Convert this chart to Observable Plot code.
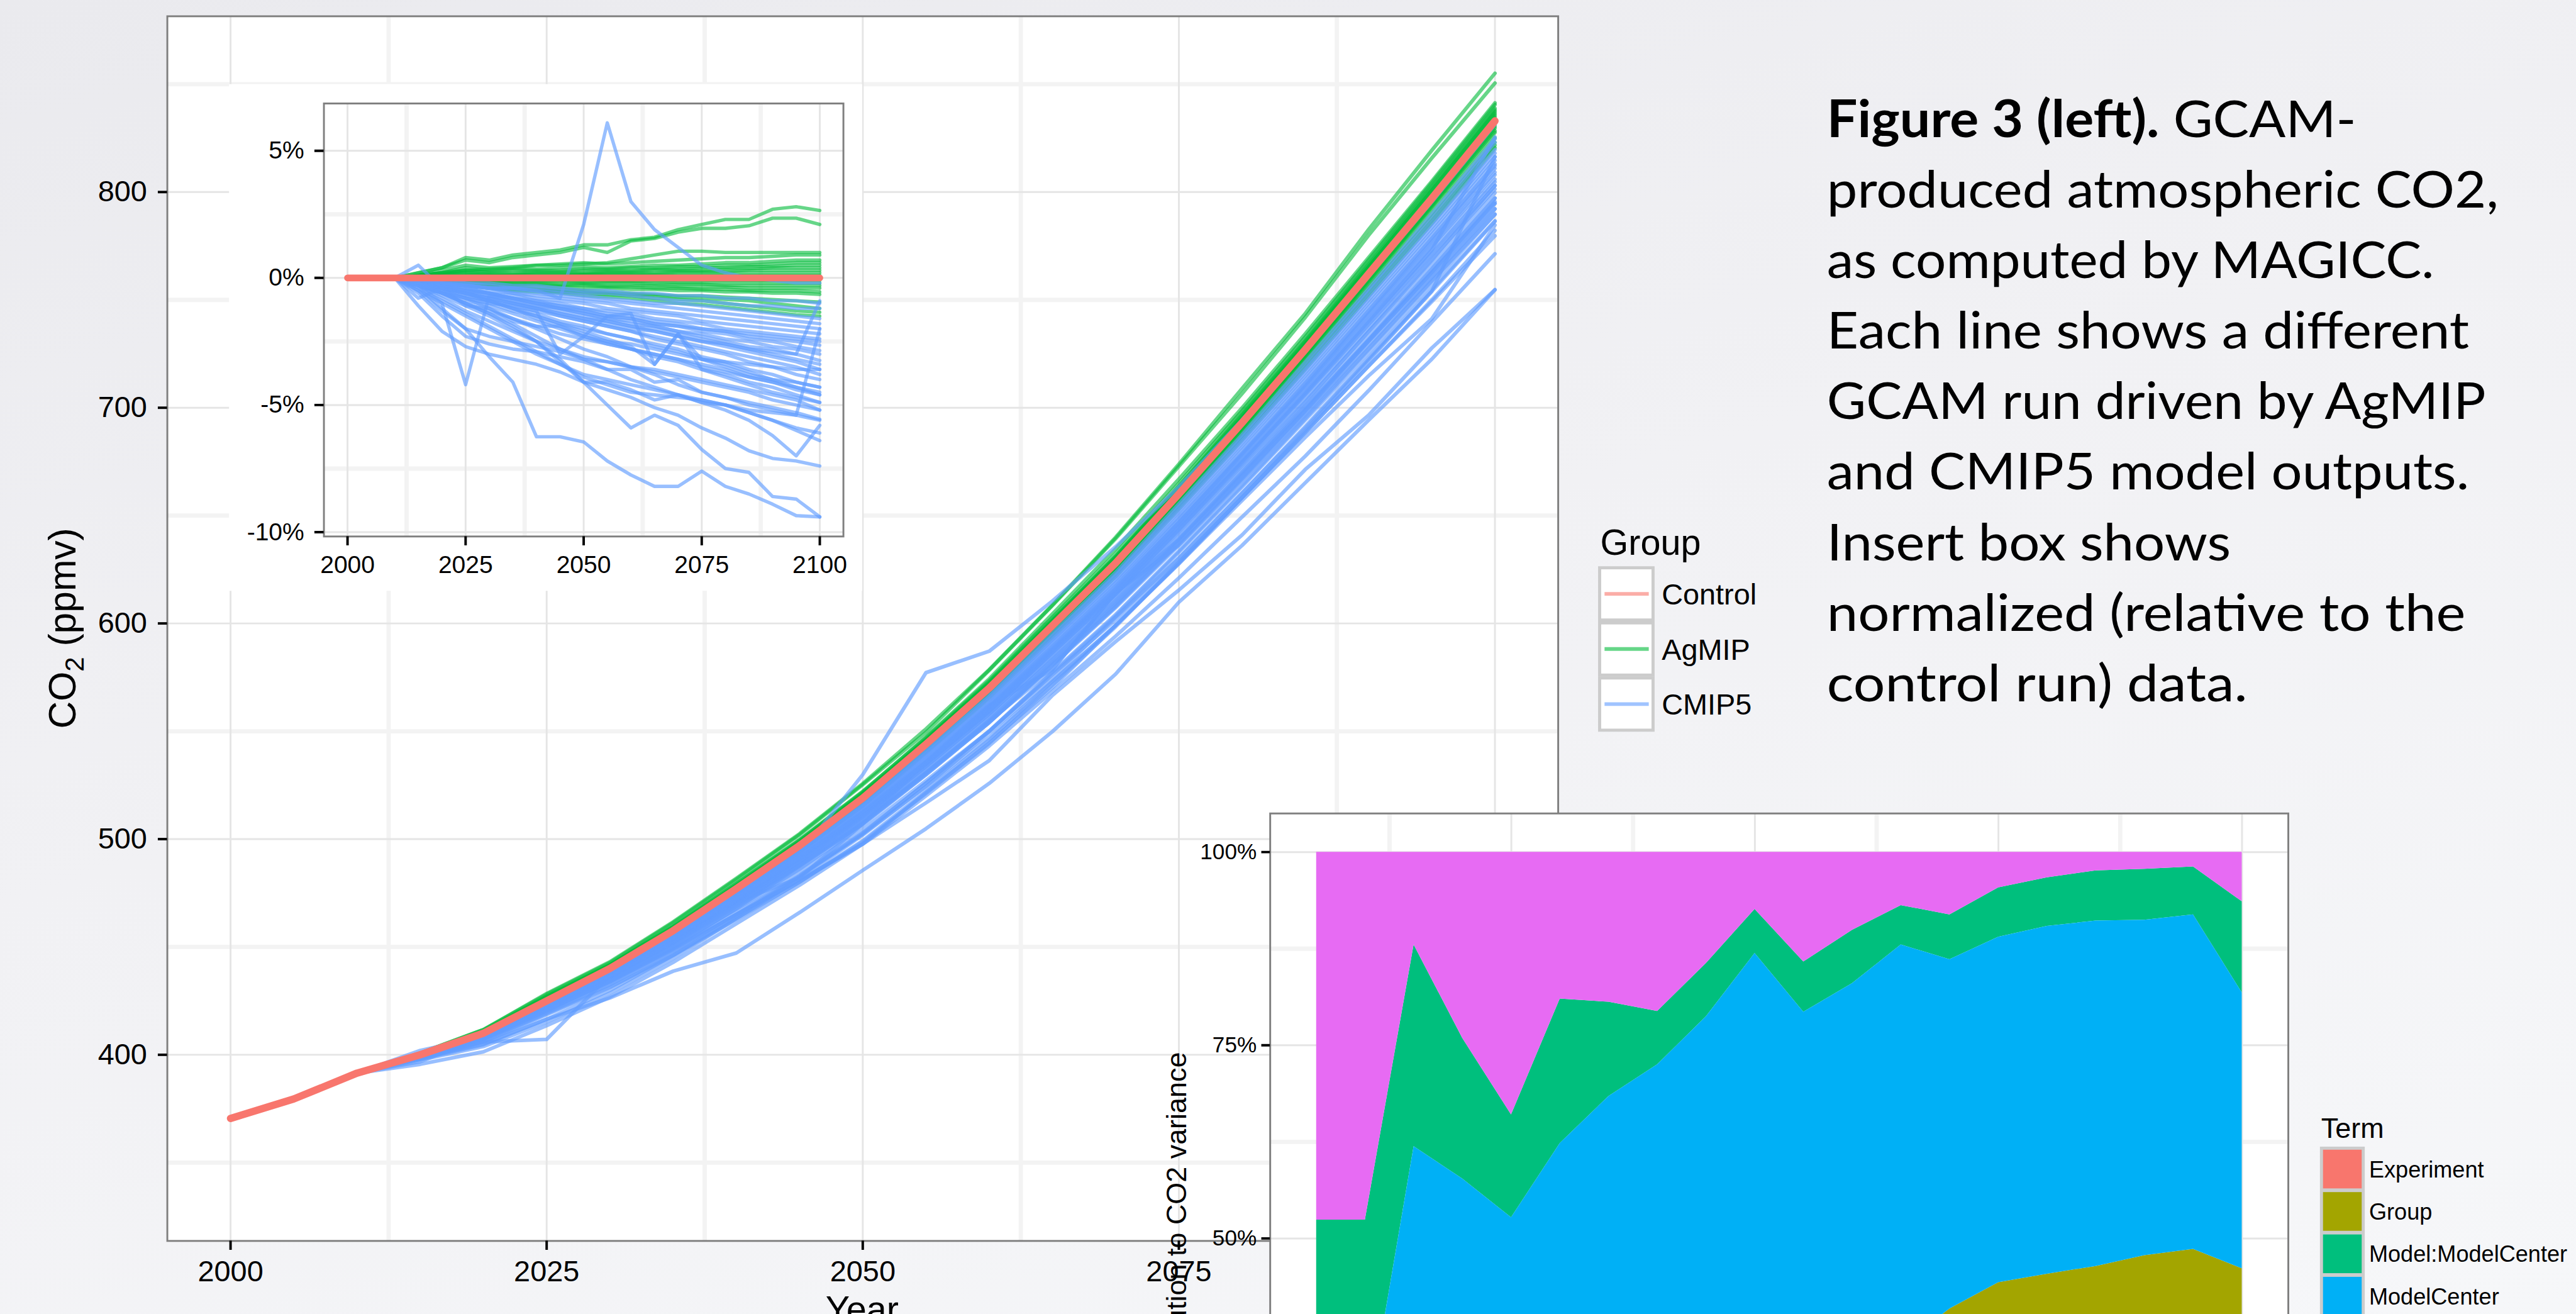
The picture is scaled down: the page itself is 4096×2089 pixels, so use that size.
<!DOCTYPE html>
<html><head><meta charset="utf-8">
<script src="https://cdn.jsdelivr.net/npm/d3@7"></script>
<script src="https://cdn.jsdelivr.net/npm/@observablehq/plot@0.6"></script>
<style>
html,body{margin:0;padding:0;width:4096px;height:2089px;overflow:hidden;background:#F2F2F5;}
#stage{position:absolute;left:0;top:0;width:4195px;height:2140px;transform:scale(0.97640);transform-origin:0 0;overflow:hidden;
background:linear-gradient(165deg,#EAEAEE 0%,#F1F1F4 45%,#F6F7F9 100%);}
</style></head><body><div id="stage"></div>
<script>
// ---------------- DATA ----------------
const years = [2000,2005,2010,2015,2020,2025,2030,2035,2040,2045,2050,2055,2060,2065,2070,2075,2080,2085,2090,2095,2100];
const control = [370.5,379.5,391.5,400,410,425,440,457.5,477,497,519,544,570,599,628,660,693,727,762,797,833];
const runYears = [2010,2015,2020,2025,2030,2035,2040,2045,2050,2055,2060,2065,2070,2075,2080,2085,2090,2095,2100];
const groups = ["Control","AgMIP","CMIP5"];
const groupColors = ["#F8766D","#00BA38","#619CFF"];

// AgMIP runs: deviation from control (%), 2010..2100
const agmipDev = [
 [0,0.2,0.4,0.8,0.7,0.9,1.0,1.1,1.3,1.3,1.5,1.6,1.9,2.1,2.3,2.3,2.7,2.8,2.65],
 [0,0.2,0.4,0.7,0.6,0.8,0.9,1.0,1.2,1.0,1.45,1.55,1.8,1.95,1.95,2.05,2.35,2.35,2.1],
 [0,0.1,0.2,0.3,0.35,0.4,0.5,0.5,0.55,0.6,0.75,0.9,1.05,1.05,1.0,1.0,1.0,1.0,1.0],
 [0,0.1,0.3,0.5,0.4,0.45,0.5,0.55,0.6,0.55,0.6,0.65,0.7,0.75,0.8,0.8,0.85,0.9,0.9],
 [0,0.1,0.2,0.4,0.3,0.35,0.35,0.4,0.45,0.4,0.45,0.5,0.5,0.55,0.6,0.6,0.65,0.7,0.7],
 [0,0.1,0.2,0.3,0.25,0.3,0.3,0.3,0.35,0.35,0.4,0.4,0.45,0.45,0.5,0.5,0.55,0.6,0.6],
 [0,0.05,0.15,0.25,0.2,0.2,0.25,0.25,0.3,0.3,0.3,0.35,0.35,0.4,0.4,0.45,0.45,0.5,0.5],
 [0,0.05,0.1,0.2,0.15,0.15,0.2,0.2,0.2,0.25,0.25,0.3,0.3,0.3,0.35,0.35,0.4,0.4,0.4],
 [0,0.05,0.1,0.15,0.1,0.1,0.15,0.15,0.15,0.2,0.2,0.2,0.25,0.25,0.25,0.3,0.3,0.3,0.3],
 [0,0,0.05,0.1,0.1,0.1,0.1,0.1,0.15,0.15,0.15,0.15,0.2,0.2,0.2,0.2,0.2,0.2,0.2],
 [0,0,0.05,0.05,0.05,0.05,0.05,0.05,0.1,0.1,0.1,0.1,0.1,0.1,0.1,0.1,0.1,0.1,0.1],
 [0,0,0,-0.05,-0.05,-0.05,-0.05,-0.05,-0.05,-0.1,-0.1,-0.1,-0.1,-0.1,-0.1,-0.1,-0.1,-0.1,-0.1],
 [0,0,-0.05,-0.05,-0.1,-0.1,-0.1,-0.1,-0.15,-0.15,-0.15,-0.15,-0.2,-0.2,-0.2,-0.2,-0.2,-0.2,-0.2],
 [0,-0.05,-0.05,-0.1,-0.1,-0.15,-0.15,-0.15,-0.2,-0.2,-0.2,-0.25,-0.25,-0.25,-0.3,-0.3,-0.3,-0.3,-0.3],
 [0,-0.05,-0.1,-0.15,-0.15,-0.2,-0.2,-0.25,-0.25,-0.3,-0.3,-0.3,-0.35,-0.35,-0.35,-0.4,-0.4,-0.4,-0.4],
 [0,-0.05,-0.1,-0.15,-0.2,-0.25,-0.25,-0.3,-0.3,-0.35,-0.35,-0.4,-0.4,-0.45,-0.45,-0.5,-0.5,-0.5,-0.55],
 [0,-0.1,-0.15,-0.2,-0.25,-0.3,-0.3,-0.35,-0.4,-0.4,-0.45,-0.45,-0.5,-0.5,-0.55,-0.55,-0.6,-0.6,-0.65],
 [0,-0.1,-0.2,-0.25,-0.3,-0.35,-0.4,-0.45,-0.5,-0.55,-0.6,-0.65,-0.7,-0.7,-0.75,-0.8,-0.85,-0.9,-0.95],
 [0,-0.1,-0.2,-0.3,-0.35,-0.4,-0.45,-0.5,-0.55,-0.6,-0.65,-0.7,-0.75,-0.8,-0.85,-0.9,-1.0,-1.1,-1.2],
 [0,-0.1,-0.2,-0.3,-0.4,-0.45,-0.5,-0.55,-0.6,-0.65,-0.7,-0.8,-0.85,-0.9,-1.0,-1.1,-1.2,-1.3,-1.35],
 [0,-0.1,-0.2,-0.3,-0.4,-0.5,-0.55,-0.6,-0.7,-0.75,-0.8,-0.9,-1.0,-1.05,-1.15,-1.25,-1.35,-1.45,-1.5]
];
// CMIP5 runs: deviation from control (%), 2010..2100
const cmip5Dev = [
 [0,-0.2,-0.3,-0.3,-0.4,-0.4,-0.5,-0.8,2.1,6.1,3.0,1.9,1.2,0.5,0.2,0.0,-0.1,-0.2,-0.2],
 [0,-0.3,-1.0,-4.2,-0.7,-0.8,-1.0,-1.2,-1.3,-1.5,-1.6,-1.8,-1.9,-2.0,-2.1,-2.2,-2.3,-2.4,-2.5],
 [0,-0.4,-1.2,-2.0,-3.1,-4.1,-6.25,-6.25,-6.45,-7.2,-7.75,-8.2,-8.2,-7.6,-8.2,-8.5,-8.9,-9.35,-9.4],
 [0,-1.1,-2.1,-2.7,-3.0,-3.2,-3.4,-3.7,-4.1,-4.4,-4.7,-5.1,-5.4,-5.9,-6.3,-6.8,-7.1,-7.2,-7.4],
 [0,-0.3,-0.6,-1.0,-1.4,-1.8,-2.3,-2.8,-3.2,-3.6,-4.0,-4.3,-4.6,-4.9,-5.2,-5.6,-6.2,-7.0,-5.8],
 [0,-0.2,-0.5,-0.8,-1.2,-1.6,-2.0,-2.4,-2.8,-3.1,-3.5,-3.8,-4.2,-4.5,-4.7,-5.0,-5.2,-5.4,-2.0],
 [0,-0.2,-0.4,-0.6,-0.8,-1.0,-1.2,-1.4,-1.6,-1.8,-2.0,-2.1,-2.3,-2.5,-2.6,-2.8,-2.9,-3.0,-0.9],
 [0,-0.3,-0.6,-0.8,-1.0,-1.1,-1.3,-3.0,-2.3,-1.5,-1.4,-3.4,-2.2,-3.6,-3.9,-4.2,-4.5,-4.7,-4.9],
 [0,-0.2,-0.4,-0.6,-0.9,-1.2,-1.5,-1.8,-2.1,-2.4,-2.7,-3.4,-2.2,-3.2,-3.5,-3.8,-4.0,-4.1,-4.3],
 [0,-0.5,-1.0,-1.5,-2.0,-2.5,-3.0,-3.4,-3.8,-4.0,-4.2,-4.4,-4.6,-4.8,-5.0,-5.3,-5.6,-5.9,-6.1],
 [0,-0.4,-0.9,-1.4,-1.9,-2.4,-2.9,-3.4,-3.9,-4.2,-4.5,-4.6,-4.7,-4.8,-5.0,-5.3,-5.6,-6.0,-6.4],
 [0,-0.3,-0.7,-1.1,-1.5,-2.0,-2.5,-3.2,-4.1,-4.1,-4.4,-4.8,-4.6,-4.9,-5.0,-5.2,-5.3,-5.4,-5.6],
 [0,-0.3,-0.6,-1.0,-1.4,-1.9,-2.5,-3.3,-4.1,-5.0,-5.9,-5.4,-5.8,-6.75,-7.5,-7.65,-8.6,-8.7,-9.4],
 [0,-0.6,-1.5,-2.3,-2.6,-2.8,-2.9,-3.1,-3.3,-3.6,-3.6,-4.1,-4.0,-4.5,-4.7,-4.9,-5.1,-5.3,-5.56],
 [0,-0.5,-1.3,-2.0,-2.3,-2.5,-2.7,-2.9,-3.2,-3.3,-3.5,-3.6,-3.8,-4.0,-4.2,-4.4,-4.6,-4.8,-5.2],
 [0,-0.3,-0.6,-0.9,-1.1,-1.4,-1.7,-2.0,-2.3,-2.6,-2.8,-3.1,-3.3,-3.6,-3.8,-4.1,-4.3,-4.6,-4.9],
 [0,-0.2,-0.4,-0.7,-0.9,-1.2,-1.4,-1.7,-1.9,-2.2,-2.4,-2.7,-2.9,-3.2,-3.4,-3.7,-4.0,-4.3,-4.6],
 [0,-0.3,-0.5,-0.8,-1.0,-1.3,-1.5,-1.8,-2.0,-2.2,-2.4,-2.6,-2.8,-3.1,-3.3,-3.6,-3.8,-4.1,-4.3],
 [0,-0.2,-0.4,-0.6,-0.8,-1.0,-1.2,-1.5,-1.7,-1.9,-2.1,-2.4,-2.6,-2.8,-3.0,-3.3,-3.5,-3.8,-4.0],
 [0,-0.2,-0.5,-0.7,-0.9,-1.1,-1.3,-1.5,-1.7,-1.9,-2.1,-2.3,-2.5,-2.7,-2.9,-3.1,-3.3,-3.5,-3.8],
 [0,-0.1,-0.3,-0.5,-0.7,-0.9,-1.1,-1.3,-1.5,-1.7,-1.9,-2.1,-2.3,-2.5,-2.7,-2.9,-3.1,-3.3,-3.6],
 [0,-0.2,-0.4,-0.6,-0.8,-1.0,-1.2,-1.4,-1.6,-1.7,-1.9,-2.0,-2.2,-2.4,-2.6,-2.8,-3.0,-3.2,-3.4],
 [0,-0.1,-0.3,-0.5,-0.6,-0.8,-1.0,-1.2,-1.4,-1.6,-1.8,-1.9,-2.1,-2.3,-2.5,-2.7,-2.8,-3.0,-3.25],
 [0,-0.2,-0.4,-0.5,-0.7,-0.9,-1.1,-1.2,-1.4,-1.6,-1.7,-1.9,-2.1,-2.2,-2.4,-2.5,-2.7,-2.8,-3.0],
 [0,-0.1,-0.2,-0.4,-0.6,-0.8,-1.0,-1.1,-1.3,-1.5,-1.6,-1.8,-1.9,-2.1,-2.2,-2.4,-2.5,-2.7,-2.86],
 [0,-0.2,-0.3,-0.5,-0.6,-0.8,-0.9,-1.1,-1.2,-1.4,-1.5,-1.7,-1.8,-2.0,-2.1,-2.3,-2.4,-2.5,-2.65],
 [0,-0.1,-0.3,-0.4,-0.6,-0.7,-0.9,-1.0,-1.2,-1.3,-1.4,-1.6,-1.7,-1.8,-2.0,-2.1,-2.2,-2.3,-2.4],
 [0,-0.1,-0.2,-0.4,-0.5,-0.6,-0.8,-0.9,-1.0,-1.2,-1.3,-1.4,-1.5,-1.7,-1.8,-1.9,-2.0,-2.1,-2.2],
 [0,-0.1,-0.2,-0.3,-0.4,-0.6,-0.7,-0.8,-0.9,-1.0,-1.2,-1.3,-1.4,-1.5,-1.6,-1.7,-1.8,-1.9,-2.0],
 [0,-0.1,-0.2,-0.3,-0.4,-0.5,-0.6,-0.7,-0.8,-0.9,-1.0,-1.1,-1.2,-1.3,-1.4,-1.5,-1.6,-1.7,-1.8],
 [0,-0.1,-0.2,-0.3,-0.4,-0.4,-0.5,-0.6,-0.7,-0.8,-0.9,-1.0,-1.0,-1.1,-1.2,-1.3,-1.4,-1.5,-1.6],
 [0,-0.1,-0.1,-0.2,-0.3,-0.4,-0.4,-0.5,-0.6,-0.6,-0.7,-0.8,-0.9,-0.9,-1.0,-1.1,-1.1,-1.2,-1.2],
 [0,-0.1,-0.1,-0.2,-0.2,-0.3,-0.3,-0.4,-0.5,-0.5,-0.6,-0.6,-0.7,-0.7,-0.8,-0.8,-0.9,-0.9,-1.0],
 [0,0.5,-0.4,-0.6,-0.9,-1.2,-1.6,-1.9,-2.2,-2.5,-2.8,-3.0,-3.2,-3.5,-3.7,-3.9,-4.1,-4.3,-4.5],
 [0,-0.8,-0.4,-1.1,-1.2,-1.7,-1.9,-1.9,-2.3,-2.5,-2.6,-2.8,-3.0,-3.2,-3.3,-3.4,-3.5,-3.6,-3.6],
 [0,-0.3,-0.8,-1.3,-1.7,-2.1,-2.5,-2.8,-3.1,-3.3,-3.5,-3.7,-3.9,-4.1,-4.3,-4.5,-4.8,-5.0,-5.2],
 [0,-0.2,-0.6,-1.0,-1.3,-1.6,-1.9,-2.2,-2.4,-2.6,-2.8,-3.0,-3.2,-3.4,-3.6,-3.9,-4.1,-4.4,-4.6]
];

const mainXTicks = [2000,2025,2050,2075,2100];
const minorXTicks = [2012.5,2037.5,2062.5,2087.5];
const mainYTicks = [400,500,600,700,800];
const mainYMinor = [350,450,550,650,750,850];
const insetYTicks = [5,0,-5,-10];
const insetYMinor = [2.5,-2.5,-7.5];

// Variance decomposition (share %, 2005..2100), stacked bottom -> top
const areaYears = [2005,2010,2015,2020,2025,2030,2035,2040,2045,2050,2055,2060,2065,2070,2075,2080,2085,2090,2095,2100];
const terms = ["Experiment","Group","Model:ModelCenter","ModelCenter","Residuals"];
const termColors = ["#F8766D","#A3A500","#00BF7D","#00B0F6","#E76BF3"];
const stackOrder = ["Experiment","Group","ModelCenter","Model:ModelCenter","Residuals"];
const shareExperiment = [1,1,1,1,1,1,1,1,1,1,1,1,1,1,1,1,1,1,1,1];
const shareGroup = [9,9,11,14,17,19,21,23,25,27,29,32,35,39.9,43.3,44.4,45.4,46.8,47.6,45.1];
const shareModelCenter = [15,15,49.9,42.7,34.7,42.3,46.4,48.5,52.7,58.9,49.3,50,52,45.2,44.7,45,44.7,43.4,43.3,35.7];
const shareModelModelCenter = [27.4,27.4,26.1,18.2,13.3,18.7,12.2,6.9,6.9,5.7,6.5,6.9,5.1,5.8,6.4,6.3,6.5,6.6,6.2,11.8];
const shareResiduals = [47.6,47.6,12,24.1,34,19,19.4,20.6,14.4,7.4,14.2,10.1,6.9,8.1,4.6,3.3,2.4,2.2,1.9,6.4];
const areaYTicks = [0,25,50,75,100];
const areaYMinor = [12.5,37.5,62.5,87.5];
const areaXTicks = [2025,2050,2075,2100];

const captionLines = [
 ["Figure 3 (left).", " GCAM-"],
 ["", "produced atmospheric CO2,"],
 ["", "as computed by MAGICC."],
 ["", "Each line shows a different"],
 ["", "GCAM run driven by AgMIP"],
 ["", "and CMIP5 model outputs."],
 ["", "Insert box shows"],
 ["", "normalized (relative to the"],
 ["", "control run) data."]
];
const captionWidths = [862,1094,989,1046,1073,1046,658,1040,685];

// ---------------- BUILD ----------------
const stage = document.getElementById("stage");
function place(node, left, top){ node.style.position="absolute"; node.style.left=left+"px"; node.style.top=top+"px"; stage.appendChild(node); }
const FONT = "'Liberation Sans', Arial, Helvetica, sans-serif";
const colorOf = g => groupColors[groups.indexOf(g)];

const mainRows = [], insetRows = [];
const runs = [];
agmipDev.forEach((d,i)=>runs.push({run:"A"+i, group:"AgMIP", dev:d}));
cmip5Dev.forEach((d,i)=>runs.push({run:"C"+i, group:"CMIP5", dev:d}));
for (const r of runs) runYears.forEach((y,j)=>{
  const c = control[years.indexOf(y)];
  mainRows.push({run:r.run, group:r.group, year:y, co2:c*(1+r.dev[j]/100)});
  insetRows.push({run:r.run, group:r.group, year:y, pct:r.dev[j]});
});
const controlRows = years.map((y,i)=>({year:y, co2:control[i], pct:0}));

const grid = (minX, majX, minY, majY) => [
  Plot.ruleY(minY, {stroke:"#F3F3F3", strokeWidth:7}),
  Plot.ruleX(minX, {stroke:"#F3F3F3", strokeWidth:7}),
  Plot.ruleY(majY, {stroke:"#E5E5E5", strokeWidth:3}),
  Plot.ruleX(majX, {stroke:"#E5E5E5", strokeWidth:3})
];

// Main chart
const mainPlot = Plot.plot({
  width:2600, height:2140,
  marginLeft:272, marginRight:63, marginTop:26, marginBottom:120,
  x:{domain:[1995,2105]}, y:{domain:[313.7,881.5]},
  style:{background:"transparent", color:"black", fontFamily:FONT, maxWidth:"none"},
  marks:[
    Plot.frame({fill:"white"}),
    ...grid(minorXTicks, mainXTicks, mainYMinor, mainYTicks),
    Plot.line(mainRows.filter(d=>d.group==="AgMIP"), {x:"year", y:"co2", z:"run", stroke:colorOf("AgMIP"), strokeOpacity:0.6, strokeWidth:6}),
    Plot.line(mainRows.filter(d=>d.group==="CMIP5"), {x:"year", y:"co2", z:"run", stroke:colorOf("CMIP5"), strokeOpacity:0.65, strokeWidth:6}),
    Plot.line(controlRows, {x:"year", y:"co2", stroke:colorOf("Control"), strokeWidth:12}),
    Plot.frame({stroke:"#7F7F7F", strokeWidth:3}),
    Plot.axisX({ticks:mainXTicks, tickFormat:d=>String(d), tickSize:15, tickPadding:17, fontSize:48, strokeWidth:4, stroke:"black", label:null}),
    Plot.axisY({ticks:mainYTicks, tickFormat:d=>String(d), tickSize:15, tickPadding:18, fontSize:48, strokeWidth:4, stroke:"black", label:null})
  ]
});
place(mainPlot, 0, 0);

// Inset chart
const insetPlot = Plot.plot({
  width:1031, height:825,
  marginLeft:154, marginRight:31, marginTop:31, marginBottom:89,
  x:{domain:[1995,2105]}, y:{domain:[-10.17,6.86]},
  style:{background:"white", color:"black", fontFamily:FONT, maxWidth:"none"},
  marks:[
    Plot.frame({fill:"white"}),
    ...grid(minorXTicks, mainXTicks, insetYMinor, insetYTicks),
    Plot.line(insetRows.filter(d=>d.group==="AgMIP"), {x:"year", y:"pct", z:"run", stroke:colorOf("AgMIP"), strokeOpacity:0.6, strokeWidth:5.5}),
    Plot.line(insetRows.filter(d=>d.group==="CMIP5"), {x:"year", y:"pct", z:"run", stroke:colorOf("CMIP5"), strokeOpacity:0.65, strokeWidth:5.5}),
    Plot.line(controlRows, {x:"year", y:"pct", stroke:colorOf("Control"), strokeWidth:11}),
    Plot.frame({stroke:"#7F7F7F", strokeWidth:3}),
    Plot.axisX({ticks:mainXTicks, tickFormat:d=>String(d), tickSize:15, tickPadding:16, fontSize:40, strokeWidth:4, stroke:"black", label:null}),
    Plot.axisY({ticks:insetYTicks, tickFormat:d=>String(d)+"%", tickSize:15, tickPadding:17, fontSize:40, strokeWidth:4, stroke:"black", label:null})
  ]
});
place(insetPlot, 373, 137);

// Overlay 1: titles, Group legend, caption
const ov1 = d3.create("svg").attr("width",4195).attr("height",2140).style("overflow","visible");
ov1.append("text").attr("transform","translate(123,1023) rotate(-90)").attr("text-anchor","middle")
  .attr("font-family",FONT).attr("font-size",62).attr("fill","black")
  .call(t=>{ t.append("tspan").text("CO"); t.append("tspan").attr("font-size",43).attr("dy",13).text("2"); t.append("tspan").attr("dy",-13).text(" (ppmv)"); });
ov1.append("text").attr("x",1404).attr("y",2152).attr("text-anchor","middle").attr("font-family",FONT).attr("font-size",59).text("Year");
// Group legend
ov1.append("text").attr("x",2606).attr("y",903).attr("font-family",FONT).attr("font-size",59).text("Group");
groups.forEach((g,i)=>{
  const top = 922 + 89.7*i;
  ov1.append("rect").attr("x",2605).attr("y",top+2.5).attr("width",87).attr("height",85).attr("fill","white").attr("stroke","#CCCCCC").attr("stroke-width",5);
  ov1.append("line").attr("x1",2613).attr("x2",2685).attr("y1",top+45).attr("y2",top+45).attr("stroke",groupColors[i]).attr("stroke-opacity",0.6).attr("stroke-width",6);
  ov1.append("text").attr("x",2706).attr("y",top+45).attr("dy","0.36em").attr("font-family",FONT).attr("font-size",48).text(g);
});
// Caption
captionLines.forEach((ln,k)=>{
  const t = ov1.append("text").attr("x",2975).attr("y",222.8+114.9*k).attr("font-family","Lato, 'Open Sans', sans-serif").attr("font-size",84).attr("fill","black")
    .attr("textLength",captionWidths[k]).attr("lengthAdjust","spacingAndGlyphs");
  if (ln[0]) t.append("tspan").attr("font-weight",700).text(ln[0]);
  t.append("tspan").text(ln[1]);
});
place(ov1.node(), 0, 0);

// Area chart (variance decomposition)
const shares = [shareExperiment, shareGroup, shareModelModelCenter, shareModelCenter, shareResiduals];
const areaRows = [];
terms.forEach((term,ti)=>areaYears.forEach((y,j)=>areaRows.push({term, year:y, share:shares[ti][j]})));
const areaPlot = Plot.plot({
  width:1860, height:1470,
  marginLeft:188, marginRight:14, marginTop:34, marginBottom:52,
  x:{domain:[2000.25,2104.75]}, y:{domain:[-5,105]},
  color:{domain:terms, range:termColors},
  style:{background:"transparent", color:"black", fontFamily:FONT, maxWidth:"none"},
  marks:[
    Plot.frame({fill:"white"}),
    ...grid(minorXTicks, areaXTicks, areaYMinor, areaYTicks),
    Plot.areaY(areaRows, {x:"year", y:"share", fill:"term", order:stackOrder}),
    Plot.frame({stroke:"#7F7F7F", strokeWidth:3}),
    Plot.axisX({ticks:areaXTicks, tickFormat:d=>String(d), tickSize:14, tickPadding:8, fontSize:36, strokeWidth:4, stroke:"black", label:null}),
    Plot.axisY({ticks:areaYTicks, tickFormat:d=>d+"%", tickSize:14, tickPadding:8, fontSize:36, strokeWidth:4, stroke:"black", label:null})
  ]
});
place(areaPlot, 1880, 1290);

// Overlay 2: area y title, Term legend
const ov2 = d3.create("svg").attr("width",4195).attr("height",2140).style("overflow","visible");
ov2.append("text").attr("transform","translate(1932,1713) rotate(-90)").attr("text-anchor","end")
  .attr("font-family",FONT).attr("font-size",46).text("Contribution to CO2 variance");
ov2.append("text").attr("x",3780).attr("y",1853).attr("font-family",FONT).attr("font-size",46).text("Term");
ov2.append("rect").attr("x",3778).attr("y",1867).attr("width",73).attr("height",400).attr("fill","#CCCCCC");
terms.forEach((term,i)=>{
  const top = 1872 + 69*i;
  ov2.append("rect").attr("x",3783).attr("y",top).attr("width",63).attr("height",63).attr("fill",termColors[i]);
  ov2.append("text").attr("x",3858).attr("y",top+31.5).attr("dy","0.36em").attr("font-family",FONT).attr("font-size",37).text(term);
});
place(ov2.node(), 0, 0);
</script></body></html>
